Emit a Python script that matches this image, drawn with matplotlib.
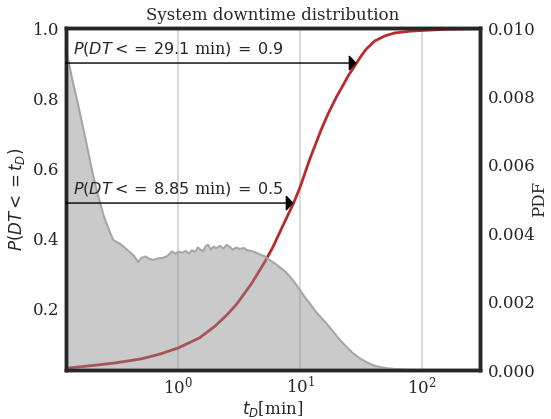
import matplotlib
matplotlib.use("Agg")
import matplotlib.pyplot as plt

cdf_t = [0.12, 0.2, 0.3, 0.5, 0.7, 1.0, 1.5, 2.0, 2.5, 3.0, 4.0, 5.2, 6.0, 7.0,
         8.85, 10, 12, 15, 17, 20, 22, 25, 29.1, 32, 35, 41, 50, 60, 80, 100,
         150, 300]
cdf_p = [0.028, 0.036, 0.043, 0.055, 0.068, 0.086, 0.115, 0.148, 0.18, 0.21,
         0.27, 0.335, 0.375, 0.425, 0.5, 0.545, 0.625, 0.712, 0.755, 0.805,
         0.83, 0.865, 0.9, 0.922, 0.94, 0.963, 0.978, 0.986, 0.991, 0.993,
         0.996, 0.998]

# histogram density of downtime
pdf_t = [0.12, 0.135, 0.15, 0.17, 0.2, 0.22, 0.245, 0.27, 0.293, 0.33, 0.38,
         0.43, 0.47, 0.5, 0.54, 0.58, 0.62, 0.68, 0.75, 0.82, 0.89, 0.95, 1.0,
         1.08, 1.15, 1.22, 1.3, 1.38, 1.45, 1.52, 1.6, 1.68, 1.76, 1.85, 1.95,
         2.05, 2.2, 2.35, 2.5, 2.65, 2.8, 3.0, 3.2, 3.45, 3.7, 4.0, 4.3, 4.7,
         5.1, 5.6, 6.2, 6.9, 7.6, 8.4, 9.2, 10, 11, 12, 13.5, 15, 16.6, 18.5,
         21, 24, 27, 31, 35, 40, 45, 52, 60, 75, 100, 150, 300]
pdf_v = [0.0094, 0.0085, 0.0078, 0.0069, 0.0057, 0.0051, 0.0045, 0.0041,
         0.0038, 0.0037, 0.00352, 0.00335, 0.00316, 0.00328, 0.00332, 0.00325,
         0.00322, 0.00326, 0.00328, 0.00334, 0.00347, 0.00340, 0.00346,
         0.00343, 0.00348, 0.00341, 0.00350, 0.00346, 0.00358, 0.00352,
         0.00347, 0.00362, 0.00366, 0.00352, 0.00361, 0.00356, 0.00363,
         0.00355, 0.00366, 0.00360, 0.00352, 0.00358, 0.00354, 0.00357,
         0.00350, 0.00348, 0.00344, 0.00338, 0.00333, 0.00322, 0.00312,
         0.00299, 0.00287, 0.00270, 0.00252, 0.00234, 0.00212, 0.00195,
         0.00170, 0.00152, 0.00135, 0.00114, 0.00090, 0.00068, 0.00050,
         0.00034, 0.00023, 0.00014, 0.00009, 0.00005, 0.00003, 0.00001,
         0.000004, 0.000001, 0.0]

quantiles = [(8.85, 0.5), (29.1, 0.9)]

plt.rcParams['font.family'] = 'DejaVu Serif'
plt.rcParams['mathtext.fontset'] = 'dejavusans'
dark = '#262626'

fig = plt.figure(figsize=(5.51, 4.19), dpi=100)
ax1 = fig.add_axes([0.1198, 0.1169, 0.7514, 0.8162])
ax2 = ax1.twinx()

ax1.set_xscale('log')
ax1.set_xlim(0.12, 300)
ax1.set_ylim(0.023, 1.0)
ax2.set_ylim(0, 0.01)

ax1.grid(axis='x', which='major', color='#d9d9d9', lw=1.5)
ax1.grid(axis='y', visible=False)
ax1.set_axisbelow(True)

ax1.plot(cdf_t, cdf_p, color='#bb2a2a', lw=2)

ax2.fill_between(pdf_t, pdf_v, 0, color='#8a8a8a', alpha=0.45, lw=0)
ax2.plot(pdf_t, pdf_v, color='#a6a6a6', lw=1.5)

for t, p in quantiles:
    ax2.annotate('', xy=(t, p), xytext=(0.12, p),
                 xycoords=ax1.transData, textcoords=ax1.transData,
                 arrowprops=dict(arrowstyle='-|>,head_length=0.3,head_width=0.32',
                                 mutation_scale=15, color='black', lw=1,
                                 shrinkA=0, shrinkB=0))
    ax2.text(0.138, p + 0.014, r'$P(DT<=\:%s$ min$)\:=\:%s$' % (t, p),
             transform=ax1.transData, fontsize=11.5, color=dark, va='bottom')

ax1.set_yticks([0.2, 0.4, 0.6, 0.8, 1.0])
ax2.set_yticks([0, 0.002, 0.004, 0.006, 0.008, 0.01])
ax2.set_yticklabels(['0.000', '0.002', '0.004', '0.006', '0.008', '0.010'])
for ax in (ax1, ax2):
    ax.tick_params(length=0, labelsize=12, colors=dark, which='both')
    for s in ax.spines.values():
        s.set_linewidth(2.5)
        s.set_color(dark)
ax1.tick_params(axis='x', pad=4)
ax1.tick_params(axis='y', pad=5)
ax2.tick_params(axis='y', pad=6)

ax1.set_xlabel(r'$t_D$[min]', fontsize=12, color=dark, labelpad=1)
ax1.set_ylabel(r'$P(DT<=t_D)$', fontsize=12, color=dark, labelpad=4)
ax2.set_ylabel('PDF', fontsize=12, color=dark, labelpad=-4)
ax1.set_title('System downtime distribution', fontsize=12, color=dark, pad=6)

fig.savefig('out.png', dpi=100)
